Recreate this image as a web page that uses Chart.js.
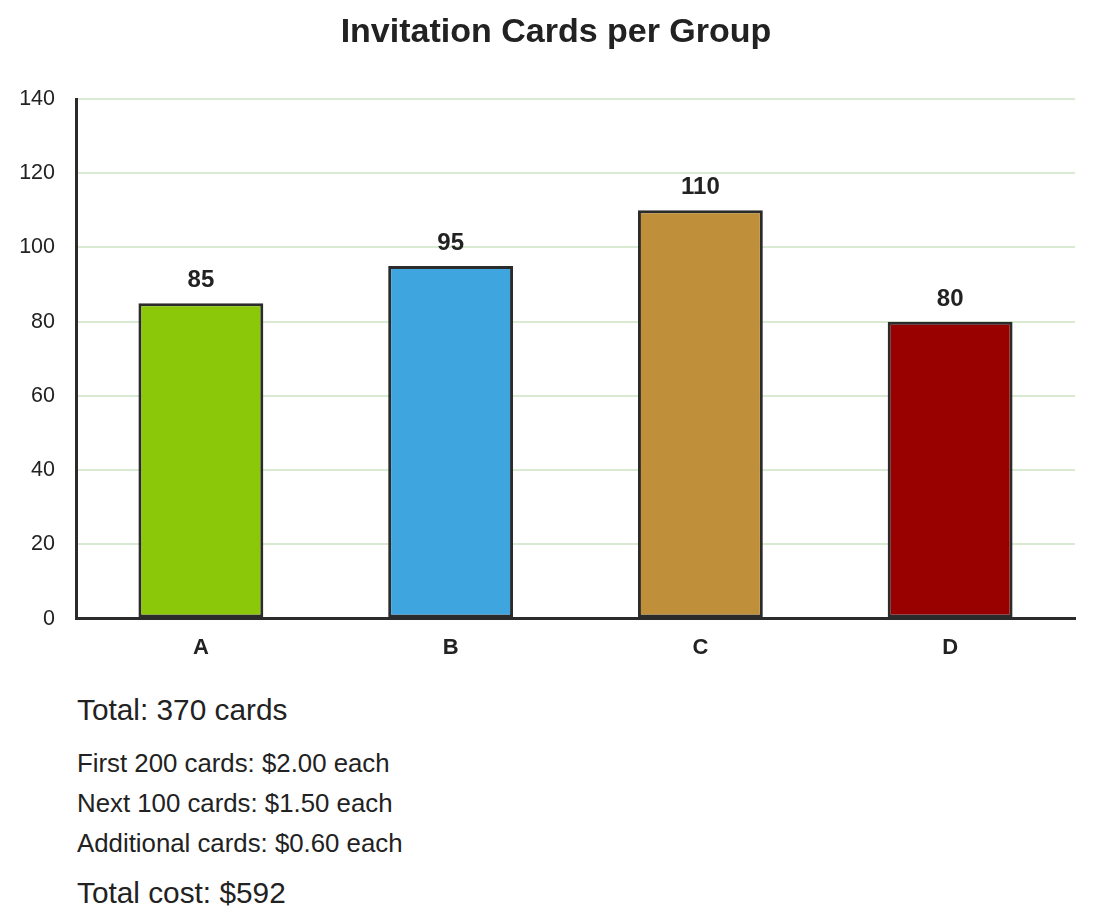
<!DOCTYPE html>
<html><head><meta charset="utf-8">
<script src="https://cdn.jsdelivr.net/npm/chart.js@4.4.1/dist/chart.umd.min.js"></script>
<style>
html,body{margin:0;padding:0;background:#fff;font-family:"Liberation Sans",Arial,sans-serif;color:#222;}
#wrap{position:relative;width:1094px;height:677px;}
#notes{position:absolute;left:77px;top:690px;}
.big{font-size:29.8px;line-height:40px;}
.small{font-size:25.8px;line-height:40px;}
</style></head><body>
<div id="wrap"><canvas id="c" width="1094" height="677"></canvas></div>
<div id="notes">
<div class="big" id="total"></div>
<div style="height:13px"></div>
<div class="small" id="t1"></div>
<div class="small" id="t2"></div>
<div class="small" id="t3"></div>
<div style="height:10px"></div>
<div class="big" id="cost"></div>
</div>
<script>
const categories = ["A","B","C","D"];
const cards = [85, 95, 110, 80];
const barColors = ["#8bc80a","#3ea5df","#bf9039","#990000"];
const yTicks = [0,20,40,60,80,100,120,140];
const chartTitle = "Invitation Cards per Group";
const notes = ["Total: 370 cards","First 200 cards: $2.00 each","Next 100 cards: $1.50 each","Additional cards: $0.60 each","Total cost: $592"];

document.getElementById('total').textContent = notes[0];
document.getElementById('t1').textContent = notes[1];
document.getElementById('t2').textContent = notes[2];
document.getElementById('t3').textContent = notes[3];
document.getElementById('cost').textContent = notes[4];

const FONT = '"Liberation Sans", Arial, sans-serif';
const labelPlugin = {
  id:'vals',
  afterDatasetsDraw(chart){
    const ctx = chart.ctx;
    const meta = chart.getDatasetMeta(0);
    ctx.save();
    ctx.font = 'bold 24px ' + FONT;
    ctx.fillStyle = '#222';
    ctx.textAlign = 'center';
    ctx.textBaseline = 'alphabetic';
    meta.data.forEach((bar,i)=>{
      ctx.fillText(String(cards[i]), bar.x, bar.y - 16);
    });
    ctx.restore();
  }
};
const titlePlugin = {
  id:'ttl',
  afterDraw(chart){
    const ctx = chart.ctx;
    ctx.save();
    ctx.font = 'bold 34px ' + FONT;
    ctx.fillStyle = '#222';
    ctx.textAlign = 'center';
    ctx.textBaseline = 'alphabetic';
    ctx.fillText(chartTitle, 556, 42);
    ctx.restore();
  }
};

new Chart(document.getElementById('c'), {
  type:'bar',
  data:{labels:categories, datasets:[{data:cards, backgroundColor:barColors, borderColor:'#2b2b2b', borderWidth:3, borderSkipped:false, categoryPercentage:1.0, barPercentage:0.5}]},
  options:{
    responsive:false, animation:false,
    layout:{padding:{left:0,right:19,top:99,bottom:0}},
    plugins:{
      legend:{display:false}, tooltip:{enabled:false}, title:{display:false}
    },
    scales:{
      x:{grid:{display:false, drawTicks:false}, border:{color:'#2b2b2b', width:3},
         ticks:{color:'#222', padding:16, font:{family:FONT, size:22, weight:'bold'}}},
      y:{min:0, max:140, afterBuildTicks(ax){ax.ticks = yTicks.map(v=>({value:v}));},
         afterFit(ax){ ax.width = 76; },
         grid:{color:'#d9ead3', lineWidth:2, drawTicks:false}, border:{color:'#2b2b2b', width:3},
         ticks:{color:'#222', padding:21, font:{family:FONT, size:21.5}}}
    }
  },
  plugins:[labelPlugin, titlePlugin]
});
</script>
</body></html>
